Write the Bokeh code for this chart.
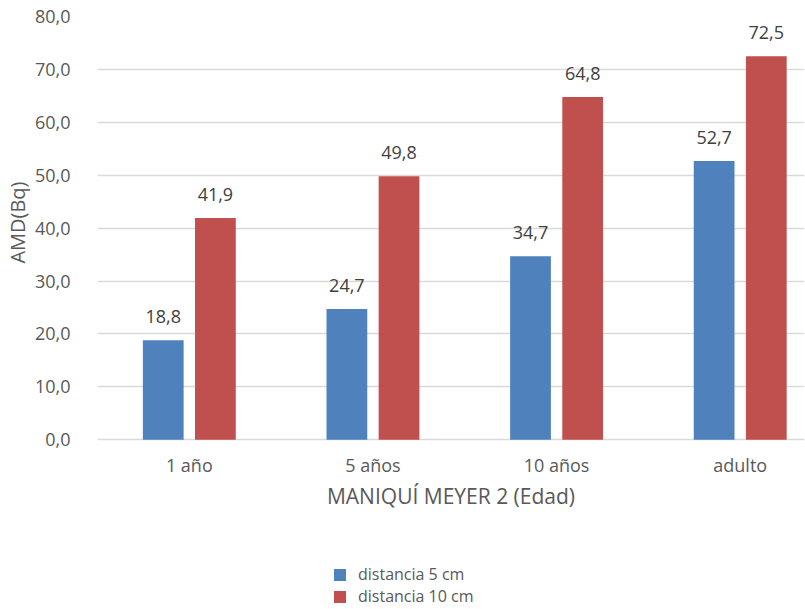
from bokeh.plotting import figure
from bokeh.models import ColumnDataSource, Range1d, FixedTicker, Legend, LegendItem, LabelSet, Title
from bokeh.core.properties import value
from bokeh.embed import file_html
from bokeh.resources import INLINE

categories = ["1 año", "5 años", "10 años", "adulto"]
dist5 = [18.8, 24.7, 34.7, 52.7]
dist10 = [41.9, 49.8, 64.8, 72.5]
series_names = ["distancia 5 cm", "distancia 10 cm"]
y_ticks = [0, 10, 20, 30, 40, 50, 60, 70, 80]

FONT = "Open Sans"
TICK_COLOR = "#595959"
LABEL_COLOR = "#404040"
BLUE = "#4F81BD"
RED = "#C0504D"

xc = [i + 0.5 for i in range(len(categories))]
fmt = lambda v: f"{v:.1f}".replace(".", ",")

src5 = ColumnDataSource(dict(x=[v - 0.142 for v in xc], y=dist5, lab=[fmt(v) for v in dist5]))
src10 = ColumnDataSource(dict(x=[v + 0.142 for v in xc], y=dist10, lab=[fmt(v) for v in dist10]))

p = figure(width=804, height=607, output_backend="svg", toolbar_location=None,
           x_range=Range1d(0, 3.85), y_range=Range1d(-31.7, 80),
           min_border_left=93, min_border_top=16, min_border_right=0, min_border_bottom=0)
p.outline_line_color = None
p.background_fill_color = "white"
p.border_fill_color = "white"

r5 = p.vbar(x="x", top="y", width=0.222, source=src5, fill_color=BLUE, line_color=None)
r10 = p.vbar(x="x", top="y", width=0.222, source=src10, fill_color=RED, line_color=None)

for s in (src5, src10):
    p.add_layout(LabelSet(x="x", y="y", text="lab", source=s, text_align="center",
                          text_baseline="bottom", y_offset=17, text_font=value(FONT),
                          text_font_size="18px", text_color=LABEL_COLOR))

p.xgrid.grid_line_color = None
p.ygrid.grid_line_color = "#D9D9D9"
p.ygrid.grid_line_width = 1.3
p.ygrid.ticker = FixedTicker(ticks=y_ticks)

p.yaxis.ticker = FixedTicker(ticks=y_ticks)
p.yaxis.major_label_overrides = {t: fmt(t) for t in y_ticks}
p.xaxis.ticker = FixedTicker(ticks=xc)
p.xaxis.major_label_overrides = {x: c for x, c in zip(xc, categories)}
p.xaxis.fixed_location = 0

for ax in (p.xaxis, p.yaxis):
    ax.axis_line_color = None
    ax.major_tick_line_color = None
    ax.minor_tick_line_color = None
    ax.major_label_text_font = FONT
    ax.major_label_text_font_size = "18px"
    ax.major_label_text_color = TICK_COLOR
    ax.axis_label_text_font = FONT
    ax.axis_label_text_font_size = "21px"
    ax.axis_label_text_font_style = "normal"
    ax.axis_label_text_color = TICK_COLOR

p.yaxis.major_label_standoff = 21
p.xaxis.axis_label = "MANIQUÍ MEYER 2 (Edad)"
p.xaxis.major_label_standoff = 7
p.xaxis.axis_label_standoff = 2

ytitle = Title(text="AMD(Bq)", align="right", offset=165, text_font=FONT,
               text_font_size="20px", text_font_style="normal", text_color=TICK_COLOR,
               standoff=2)
p.add_layout(ytitle, "left")

common = dict(orientation="vertical", border_line_color=None, background_fill_alpha=0,
              label_text_font=FONT, label_text_font_size="16px", label_text_color=TICK_COLOR,
              glyph_width=15, glyph_height=15, label_height=15, spacing=0, padding=0,
              margin=0, label_standoff=11)
leg1 = Legend(items=[LegendItem(label=series_names[0], renderers=[r5])], location=(235, 22), **common)
leg2 = Legend(items=[LegendItem(label=series_names[1], renderers=[r10])], location=(235, 0), **common)
p.add_layout(leg1, "center")
p.add_layout(leg2, "center")

open("out.html", "w").write(file_html(p, INLINE))
